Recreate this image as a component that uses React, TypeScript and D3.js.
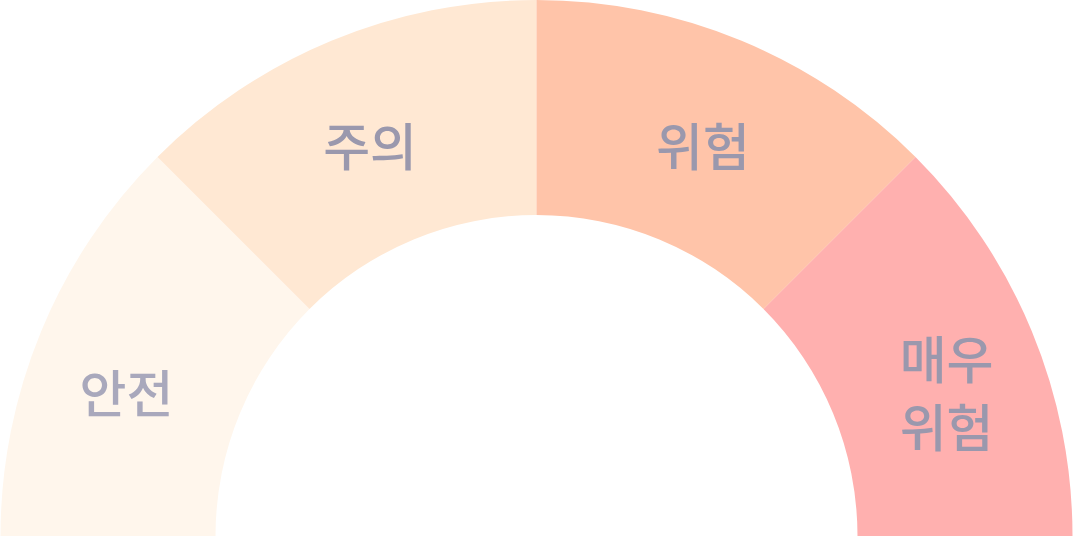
import React from "react";
import * as d3 from "d3";

const categories = ["안전", "주의", "위험", "매우 위험"];
const labelLines = [["안전"], ["주의"], ["위험"], ["매우", "위험"]];
const values = [1, 1, 1, 1];
const colors = ["#FFF6EC", "#FFE8D3", "#FFC4A9", "#FFB0AF"];

const W = 1074;
const H = 544;

export default function App() {
  const cx = 536.5;
  const cy = 536;
  const outerR = 536;
  const innerR = 321;

  const pie = d3
    .pie<number>()
    .sort(null)
    .startAngle(-Math.PI / 2)
    .endAngle(Math.PI / 2)
    .value((d) => d);
  const arcs = pie(values);
  const arc = d3.arc<d3.PieArcDatum<number>>().innerRadius(innerR).outerRadius(outerR);

  const fontSize = 51;
  const lineH = 68;

  return (
    <svg
      width={W}
      height={H}
      style={{ position: "absolute", left: 0, top: 0, display: "block" }}
      fontFamily="'Noto Sans CJK KR', 'Noto Sans', sans-serif"
    >
      <g transform={`translate(${cx},${cy})`}>
        {arcs.map((a, i) => (
          <path key={categories[i]} d={arc(a) || ""} fill={colors[i]} />
        ))}
        {arcs.map((a, i) => {
          const mid = (a.startAngle + a.endAngle) / 2;
          const outerSeg = Math.abs(mid) > Math.PI / 4;
          const nudge = ((outerSeg ? 3 : 0.5) * Math.PI) / 180;
          const ang = mid + Math.sign(mid) * nudge;
          const r = outerSeg ? 435 : 426;
          const x = r * Math.sin(ang);
          const y = -r * Math.cos(ang);
          const lines = labelLines[i];
          const y0 = y - ((lines.length - 1) * lineH) / 2;
          return (
            <text
              key={"l" + i}
              x={x}
              y={y0}
              textAnchor="middle"
              dominantBaseline="central"
              fontSize={fontSize}
              fontWeight={500}
              fill={i === 0 ? "#A9A8BC" : "#9A98AD"}
            >
              {lines.map((t, j) => (
                <tspan key={j} x={x} y={y0 + j * lineH}>
                  {t}
                </tspan>
              ))}
            </text>
          );
        })}
      </g>
    </svg>
  );
}
